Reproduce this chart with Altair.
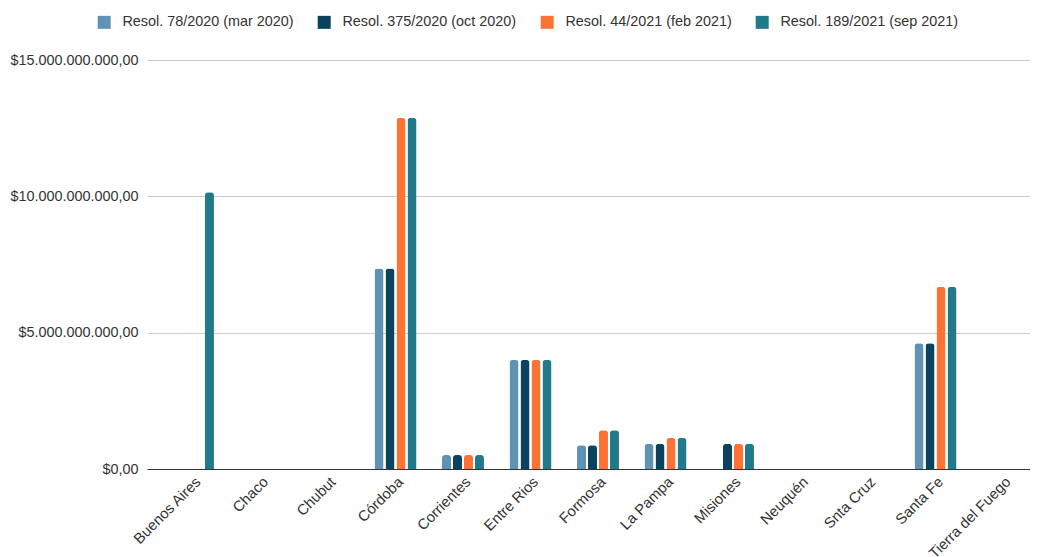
import altair as alt
import pandas as pd

provinces = ["Buenos Aires", "Chaco", "Chubut", "Córdoba", "Corrientes", "Entre Rios",
             "Formosa", "La Pampa", "Misiones", "Neuquén", "Snta Cruz", "Santa Fe",
             "Tierra del Fuego"]

series_names = ["Resol. 78/2020 (mar 2020)", "Resol. 375/2020 (oct 2020)",
                "Resol. 44/2021 (feb 2021)", "Resol. 189/2021 (sep 2021)"]

mar2020 = [None, None, None, 7.35e9, 0.51e9, 4.0e9, 0.87e9, 0.92e9, None, None, None, 4.61e9, None]
oct2020 = [None, None, None, 7.35e9, 0.51e9, 4.0e9, 0.87e9, 0.92e9, 0.92e9, None, None, 4.61e9, None]
feb2021 = [None, None, None, 12.88e9, 0.51e9, 4.0e9, 1.42e9, 1.14e9, 0.92e9, None, None, 6.68e9, None]
sep2021 = [10.15e9, None, None, 12.88e9, 0.51e9, 4.0e9, 1.42e9, 1.14e9, 0.92e9, None, None, 6.68e9, None]

colors = ["#5F93B3", "#0B425E", "#FF7236", "#21798A"]
y_ticks = [0, 5e9, 10e9, 15e9]

rows = []
for name, vals in zip(series_names, [mar2020, oct2020, feb2021, sep2021]):
    for p, v in zip(provinces, vals):
        if v is not None:
            rows.append({"provincia": p, "serie": name, "monto": v})
df = pd.DataFrame(rows)

label_expr = ("'$' + replace(replace(replace(format(datum.value, ',.2f'), "
              "regexp(',', 'g'), '_'), regexp('[.]', 'g'), ','), regexp('_', 'g'), '.')")

FONT = "Liberation Sans"

chart = alt.Chart(df).mark_bar(
    cornerRadiusTopLeft=3, cornerRadiusTopRight=3
).encode(
    x=alt.X("provincia:N", sort=provinces,
            scale=alt.Scale(domain=provinces, paddingInner=0.378, paddingOuter=0.2295,
                            align=0.806, round=False),
            axis=alt.Axis(title=None, labelAngle=-45, labelFontSize=14.8, labelColor="#333333",
                          labelFont=FONT, ticks=False, domainColor="#333333", domainWidth=1,
                          labelPadding=5, labelLimit=0)),
    xOffset=alt.XOffset("serie:N", sort=series_names,
                        scale=alt.Scale(domain=series_names, paddingInner=0.18, paddingOuter=0,
                                        round=False)),
    y=alt.Y("monto:Q",
            scale=alt.Scale(domain=[0, 15e9], nice=False),
            axis=alt.Axis(title=None, values=y_ticks, labelExpr=label_expr, labelFontSize=14.4,
                          labelFont=FONT, labelColor="#333333", ticks=False, domain=False,
                          gridColor="#cccccc", gridWidth=1, labelPadding=9, labelLimit=0)),
    color=alt.Color("serie:N", sort=series_names,
                    scale=alt.Scale(domain=series_names, range=colors),
                    legend=alt.Legend(title=None, orient="none", legendX=-50, legendY=-45,
                                      direction="horizontal", symbolType="square",
                                      symbolSize=169, symbolStrokeWidth=0, labelOffset=11,
                                      columnPadding=23, labelFontSize=14.4, labelFont=FONT,
                                      labelColor="#333333", padding=0, labelLimit=0)),
).properties(
    width=883, height=409,
    autosize=alt.AutoSizeParams(type="none"),
    padding={"left": 139, "top": 52, "right": 0, "bottom": 88},
).configure_view(stroke=None)

chart.save("out.html", embed_options={"renderer": "svg", "actions": False})
